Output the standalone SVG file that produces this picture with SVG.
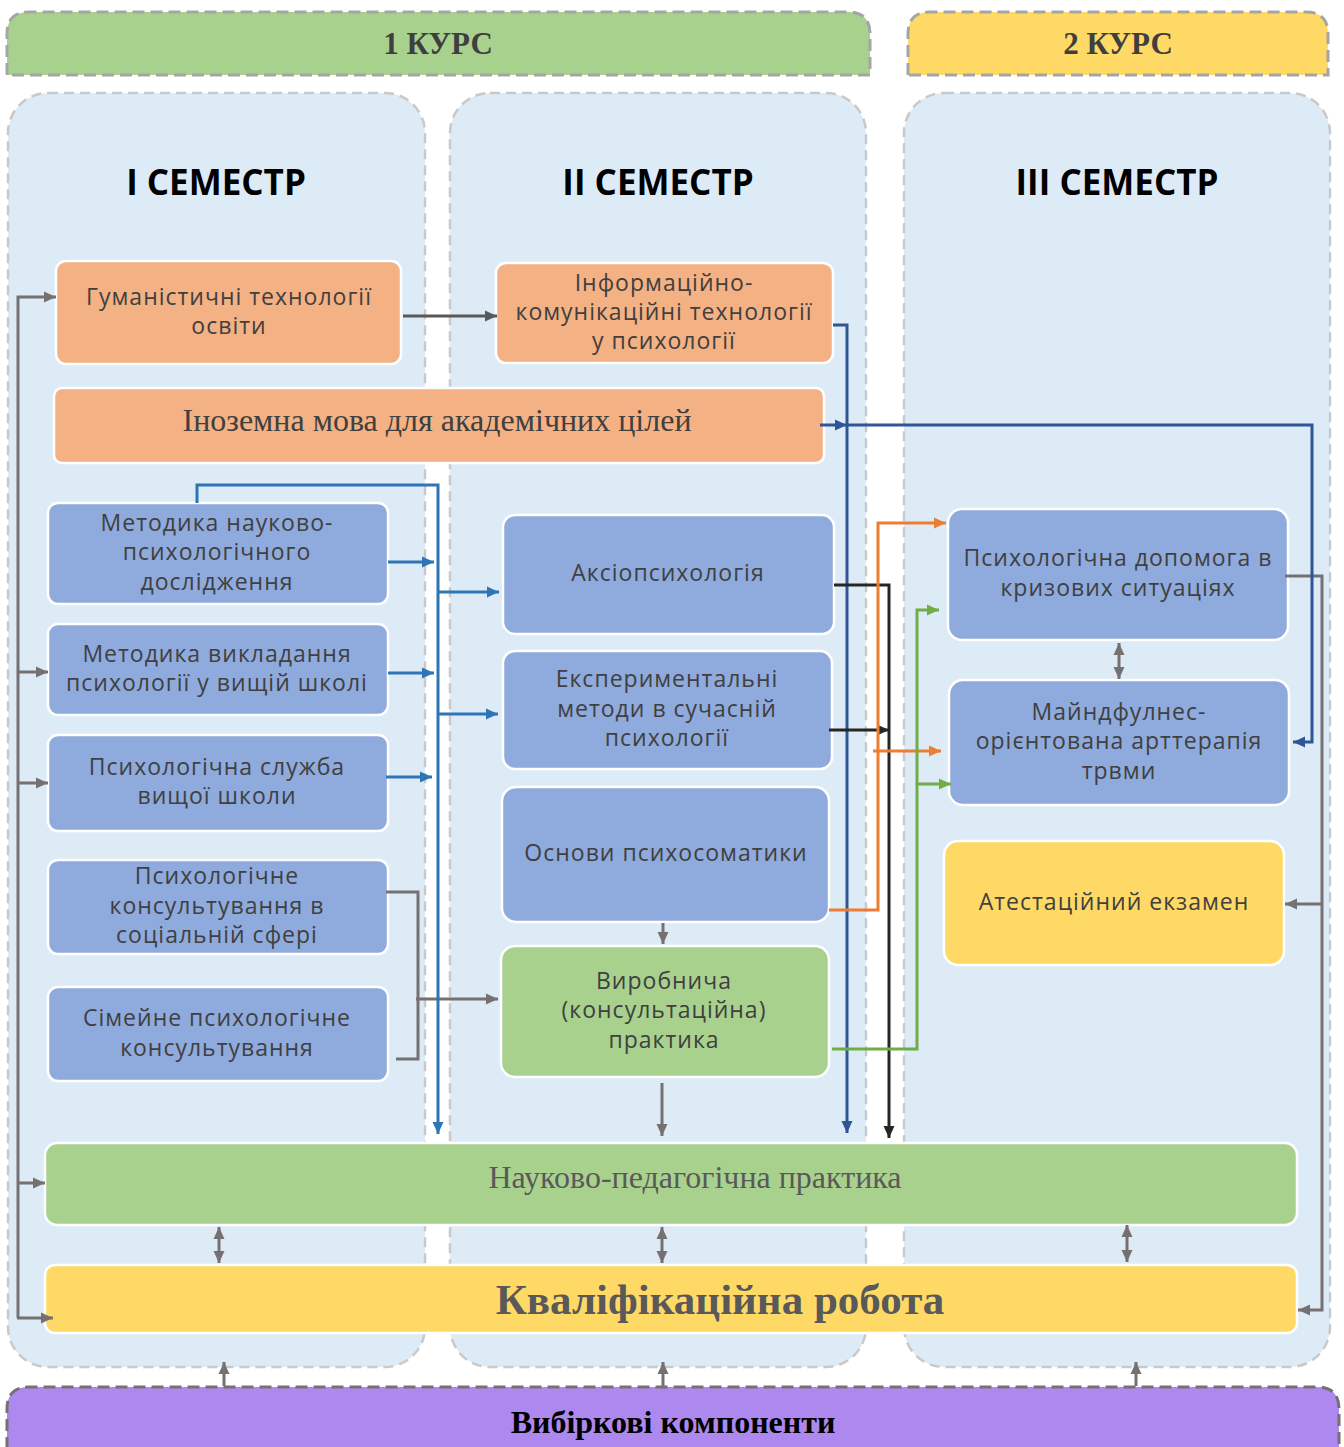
<svg xmlns="http://www.w3.org/2000/svg" width="1344" height="1447" viewBox="0 0 1344 1447">
<defs>
<style>
.panel{fill:#DDEBF7;stroke:#C9C9C9;stroke-width:2.5;stroke-dasharray:10 6}
.hdr{stroke:#A5A5A5;stroke-width:3;stroke-dasharray:12 6}
.node{stroke:#FFFFFF;stroke-width:2.5}
.or{fill:#F4B183}.bl{fill:#8FAADC}.gr{fill:#A9D18E}.ye{fill:#FFD966}.pu{fill:#AD89EF}
.t{font-family:"Open Sans","Liberation Sans",sans-serif;font-size:23px;letter-spacing:1px;fill:#404040;text-anchor:middle}
.sem{font-family:"Open Sans","Liberation Sans",sans-serif;font-size:35px;font-weight:700;fill:#000;text-anchor:middle}
.kurs{font-family:"Liberation Serif",serif;font-size:31px;font-weight:700;fill:#3F3F3F;text-anchor:middle}
.ser{font-family:"Liberation Serif",serif;fill:#404040;text-anchor:middle}
.c{fill:none;stroke-width:3}
.g{stroke:#767171}.dg{stroke:#595959}.b{stroke:#2E75B6}.db{stroke:#2F5597}.k{stroke:#262626}.o{stroke:#ED7D31}.gn{stroke:#70AD47}
</style>
<marker id="ag" viewBox="0 0 12 12" markerWidth="13" markerHeight="12" markerUnits="userSpaceOnUse" refX="12" refY="6" orient="auto-start-reverse"><path d="M0,0.5 L12,6 L0,11.5 Z" fill="#767171"/></marker>
<marker id="adg" viewBox="0 0 12 12" markerWidth="13" markerHeight="12" markerUnits="userSpaceOnUse" refX="12" refY="6" orient="auto"><path d="M0,0.5 L12,6 L0,11.5 Z" fill="#595959"/></marker>
<marker id="ab" viewBox="0 0 12 12" markerWidth="13" markerHeight="12" markerUnits="userSpaceOnUse" refX="12" refY="6" orient="auto"><path d="M0,0.5 L12,6 L0,11.5 Z" fill="#2E75B6"/></marker>
<marker id="adb" viewBox="0 0 12 12" markerWidth="13" markerHeight="12" markerUnits="userSpaceOnUse" refX="12" refY="6" orient="auto"><path d="M0,0.5 L12,6 L0,11.5 Z" fill="#2F5597"/></marker>
<marker id="ak" viewBox="0 0 12 12" markerWidth="13" markerHeight="12" markerUnits="userSpaceOnUse" refX="12" refY="6" orient="auto"><path d="M0,0.5 L12,6 L0,11.5 Z" fill="#262626"/></marker>
<marker id="ao" viewBox="0 0 12 12" markerWidth="13" markerHeight="12" markerUnits="userSpaceOnUse" refX="12" refY="6" orient="auto"><path d="M0,0.5 L12,6 L0,11.5 Z" fill="#ED7D31"/></marker>
<marker id="agn" viewBox="0 0 12 12" markerWidth="13" markerHeight="12" markerUnits="userSpaceOnUse" refX="12" refY="6" orient="auto"><path d="M0,0.5 L12,6 L0,11.5 Z" fill="#70AD47"/></marker>
</defs>
<rect width="1344" height="1447" fill="#FFFFFF"/>

<g id="headers">
<g id="kurs1"><path class="hdr" d="M7,75 V34 Q7,12 29,12 H848 Q870,12 870,34 V75 Z" fill="#A9D18E"/><text class="kurs" x="438" y="54">1 КУРС</text></g>
<g id="kurs2"><path class="hdr" d="M908,75 V34 Q908,12 930,12 H1306 Q1328,12 1328,34 V75 Z" fill="#FFD966"/><text class="kurs" x="1118" y="54">2 КУРС</text></g>
</g>

<g id="panels">
<g id="sem1"><rect class="panel" x="8" y="93" width="417" height="1274" rx="40"/><text class="sem" x="216" y="195">I СЕМЕСТР</text></g>
<g id="sem2"><rect class="panel" x="450" y="93" width="416" height="1274" rx="40"/><text class="sem" x="658" y="195">II СЕМЕСТР</text></g>
<g id="sem3"><rect class="panel" x="904" y="93" width="426" height="1274" rx="40"/><text class="sem" x="1117" y="195">III СЕМЕСТР</text></g>
</g>

<g id="vybirkovi"><path d="M7,1449 V1409 Q7,1387 29,1387 H1317 Q1339,1387 1339,1409 V1449" fill="#AD89EF" stroke="#767171" stroke-width="3" stroke-dasharray="12 6"/><text class="ser" x="673" y="1433" font-size="32" font-weight="700" style="fill:#000">Вибіркові компоненти</text></g>

<g id="n-gum"><rect class="node or" x="56" y="261" width="345" height="103" rx="10"/><text class="t" x="229" y="305">Гуманістичні технології</text><text class="t" x="229" y="334">освіти</text></g>
<g id="n-ikt"><rect class="node or" x="496" y="263" width="337" height="100" rx="10"/><text class="t" x="664" y="291">Інформаційно-</text><text class="t" x="664" y="320">комунікаційні технології</text><text class="t" x="664" y="349">у психології</text></g>
<g id="n-inoz"><rect class="node or" x="54" y="388" width="770" height="75" rx="8"/><text class="ser" x="437" y="431" font-size="32">Іноземна мова для академічних цілей</text></g>

<g id="n-mnpd"><rect class="node bl" x="48" y="503" width="340" height="101" rx="10"/><text class="t" x="217" y="531">Методика науково-</text><text class="t" x="217" y="560">психологічного</text><text class="t" x="217" y="590">дослідження</text></g>
<g id="n-mvp"><rect class="node bl" x="48" y="624" width="340" height="91" rx="10"/><text class="t" x="217" y="662">Методика викладання</text><text class="t" x="217" y="691">психології у вищій школі</text></g>
<g id="n-psvsh"><rect class="node bl" x="48" y="735" width="340" height="96" rx="10"/><text class="t" x="217" y="775">Психологічна служба</text><text class="t" x="217" y="804">вищої школи</text></g>
<g id="n-pkss"><rect class="node bl" x="48" y="860" width="340" height="94" rx="10"/><text class="t" x="217" y="884">Психологічне</text><text class="t" x="217" y="914">консультування в</text><text class="t" x="217" y="943">соціальній сфері</text></g>
<g id="n-spk"><rect class="node bl" x="48" y="987" width="340" height="94" rx="10"/><text class="t" x="217" y="1026">Сімейне психологічне</text><text class="t" x="217" y="1056">консультування</text></g>

<g id="n-aksio"><rect class="node bl" x="503" y="515" width="331" height="119" rx="12"/><text class="t" x="668" y="581">Аксіопсихологія</text></g>
<g id="n-eksp"><rect class="node bl" x="503" y="651" width="329" height="118" rx="12"/><text class="t" x="667" y="687">Експериментальні</text><text class="t" x="667" y="717">методи в сучасній</text><text class="t" x="667" y="746">психології</text></g>
<g id="n-psyhosom"><rect class="node bl" x="502" y="787" width="327" height="135" rx="14"/><text class="t" x="666" y="861">Основи психосоматики</text></g>
<g id="n-vyrob"><rect class="node gr" x="501" y="946" width="328" height="131" rx="14"/><text class="t" x="664" y="989">Виробнича</text><text class="t" x="664" y="1018">(консультаційна)</text><text class="t" x="664" y="1048">практика</text></g>

<g id="n-kryz"><rect class="node bl" x="948" y="509" width="340" height="131" rx="14"/><text class="t" x="1118" y="566">Психологічна допомога в</text><text class="t" x="1118" y="596">кризових ситуаціях</text></g>
<g id="n-mindf"><rect class="node bl" x="949" y="680" width="340" height="125" rx="14"/><text class="t" x="1119" y="720">Майндфулнес-</text><text class="t" x="1119" y="749">орієнтована арттерапія</text><text class="t" x="1119" y="779">трвми</text></g>
<g id="n-atest"><rect class="node ye" x="944" y="841" width="340" height="124" rx="14"/><text class="t" x="1114" y="910">Атестаційний екзамен</text></g>

<g id="n-npp"><rect class="node gr" x="45" y="1143" width="1252" height="82" rx="12"/><text class="ser" x="695" y="1188" font-size="32" style="fill:#595959">Науково-педагогічна практика</text></g>
<g id="n-kval"><rect class="node ye" x="45" y="1265" width="1252" height="68" rx="10"/><text class="ser" x="720" y="1314" font-size="43" font-weight="700" style="fill:#595959">Кваліфікаційна робота</text></g>

<g id="connectors">
<path class="c g" d="M18,1318 V297 H56" marker-end="url(#ag)"/>
<path class="c g" d="M18,672 H48" marker-end="url(#ag)"/>
<path class="c g" d="M18,783 H48" marker-end="url(#ag)"/>
<path class="c g" d="M18,1183 H45" marker-end="url(#ag)"/>
<path class="c g" d="M17,1318 H53" marker-end="url(#ag)"/>
<path class="c dg" d="M403,316 H497" marker-end="url(#adg)"/>
<path class="c g" d="M386,892 H418 V1059 H396"/>
<path class="c g" d="M416,999 H498" marker-end="url(#ag)"/>
<path class="c g" d="M663,923 V944" marker-end="url(#ag)"/>
<path class="c g" d="M662,1083 V1136" marker-end="url(#ag)"/>
<path class="c g" d="M219,1227 V1263" marker-start="url(#ag)" marker-end="url(#ag)"/>
<path class="c g" d="M662,1227 V1263" marker-start="url(#ag)" marker-end="url(#ag)"/>
<path class="c g" d="M1127,1225 V1262" marker-start="url(#ag)" marker-end="url(#ag)"/>
<path class="c g" d="M1119,643 V679" marker-start="url(#ag)" marker-end="url(#ag)"/>
<path class="c g" d="M224,1386 V1362" marker-end="url(#ag)"/>
<path class="c g" d="M663,1386 V1362" marker-end="url(#ag)"/>
<path class="c g" d="M1136,1386 V1362" marker-end="url(#ag)"/>
<path class="c g" d="M1285,576 H1322 V1310 H1298" marker-end="url(#ag)"/>
<path class="c g" d="M1322,904 H1285" marker-end="url(#ag)"/>

<path class="c b" d="M197,503 V485 H438 V1134" marker-end="url(#ab)"/>
<path class="c b" d="M388,562 H434" marker-end="url(#ab)"/>
<path class="c b" d="M388,673 H434" marker-end="url(#ab)"/>
<path class="c b" d="M386,777 H432" marker-end="url(#ab)"/>
<path class="c b" d="M438,592 H499" marker-end="url(#ab)"/>
<path class="c b" d="M438,714 H498" marker-end="url(#ab)"/>

<path class="c db" d="M833,325 H847 V1133" marker-end="url(#adb)"/>
<path class="c db" d="M820,425 H847" marker-end="url(#adb)"/>
<path class="c db" d="M847,425 H1312 V742 H1293" marker-end="url(#adb)"/>

<path class="c k" d="M834,585 H889 V1138" marker-end="url(#ak)"/>
<path class="c k" d="M829,730 H889" marker-end="url(#ak)"/>

<path class="c o" d="M829,910 H878 V523 H946" marker-end="url(#ao)"/>
<path class="c o" d="M873,751 H941" marker-end="url(#ao)"/>

<path class="c gn" d="M832,1049 H917 V610 H939" marker-end="url(#agn)"/>
<path class="c gn" d="M916,784 H951" marker-end="url(#agn)"/>
</g>
</svg>
